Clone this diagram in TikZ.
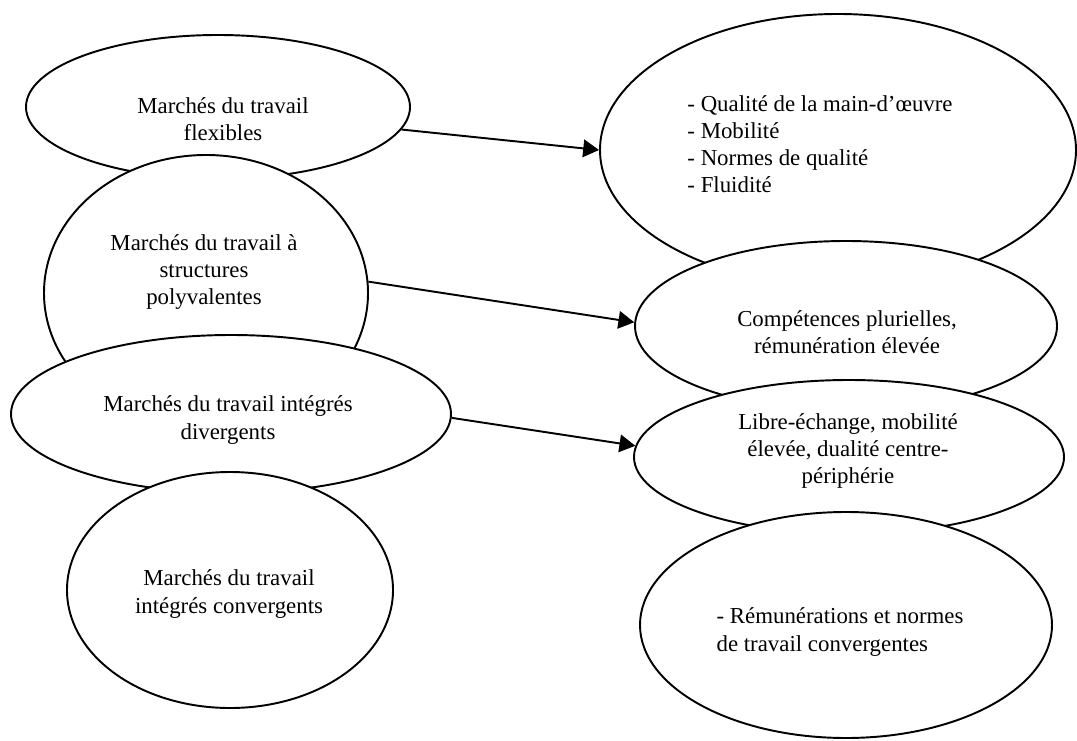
\documentclass[tikz,border=0pt]{standalone}
\usepackage{fontspec}
\setmainfont{Liberation Serif}
\usetikzlibrary{arrows.meta,shapes.geometric}

\begin{document}
\begin{tikzpicture}[oval/.style={draw, ellipse, fill=white, line width=1.1pt, inner sep=0pt},
                    lbl/.style={align=center, font=\fontsize{13}{15.4}\selectfont},
                    pointer/.style={line width=1.1pt, -{Triangle[length=9pt, width=10pt]}}]
  \useasboundingbox (0,0) rectangle (21.54,14.8);
  % left column, each one drawn over the previous
  \node[oval, minimum width=7.68cm, minimum height=2.88cm] (flex) at (4.36,12.66) {};
  \node[oval, minimum width=6.48cm, minimum height=5.52cm] (poly) at (4.12,8.94) {};
  \node[oval, minimum width=8.80cm, minimum height=3.16cm] (div) at (4.62,6.52) {};
  \node[oval, minimum width=6.52cm, minimum height=4.72cm] (conv) at (4.60,3.00) {};
  % right column
  \node[oval, minimum width=9.52cm, minimum height=5.44cm] (qual) at (16.76,11.80) {};
  \node[oval, minimum width=8.44cm, minimum height=3.40cm] (comp) at (16.92,8.28) {};
  \node[oval, minimum width=8.60cm, minimum height=3.08cm] (libre) at (16.98,5.66) {};
  \node[oval, minimum width=8.24cm, minimum height=4.52cm] (remu) at (16.92,2.30) {};
  % texts
  \node[lbl] (flextxt) at (4.46,12.42) {Marchés du travail\\flexibles};
  \node[lbl] (polytxt) at (4.08,9.36) {Marchés du travail à\\structures\\polyvalentes};
  \node[lbl] (divtxt) at (4.56,6.40) {Marchés du travail intégrés\\divergents};
  \node[lbl] (convtxt) at (4.58,2.92) {Marchés du travail\\intégrés convergents};
  \node[lbl, align=left] (qualtxt) at (16.40,11.92) {- Qualité de la main-d’œuvre\\- Mobilité\\- Normes de qualité\\- Fluidité};
  \node[lbl] (comptxt) at (16.94,8.16) {Compétences plurielles,\\rémunération élevée};
  \node[lbl] (libretxt) at (16.96,5.78) {Libre-échange, mobilité\\élevée, dualité centre-\\périphérie};
  \node[lbl, align=left] (remutxt) at (16.80,2.16) {- Rémunérations et normes\\de travail convergentes};
  % arrows
  \draw[pointer] (flex.-7) -- (qual.180);
  \draw[pointer] (poly.4) -- (comp.179);
  \draw[pointer] (div.-1) -- (libre.177);
\end{tikzpicture}
\end{document}
